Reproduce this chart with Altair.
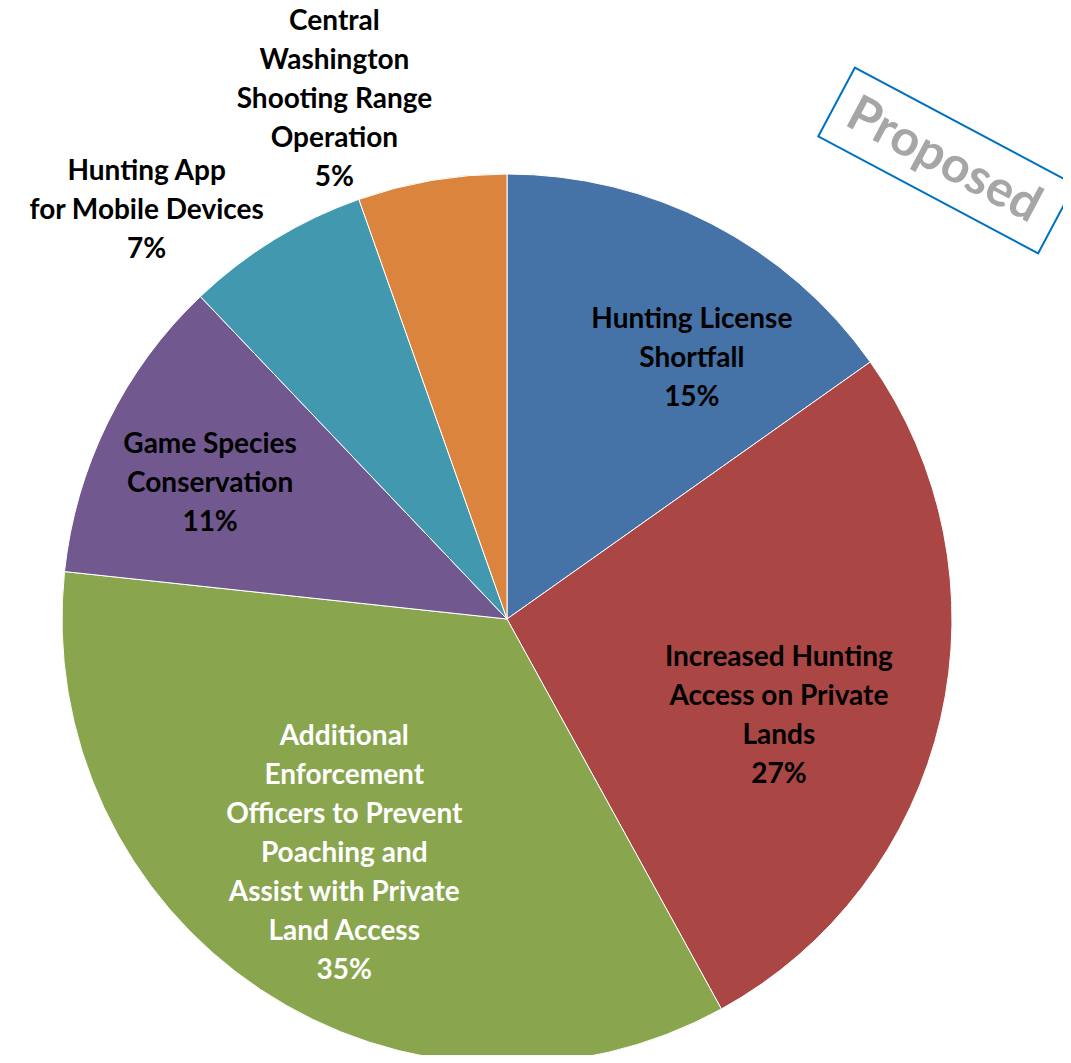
import math
import altair as alt
import pandas as pd

# ---- data ----
categories = [
    "Hunting License Shortfall",
    "Increased Hunting Access on Private Lands",
    "Additional Enforcement Officers to Prevent Poaching and Assist with Private Land Access",
    "Game Species Conservation",
    "Hunting App for Mobile Devices",
    "Central Washington Shooting Range Operation",
]
values = [15.2, 26.8, 34.7, 11.2, 6.7, 5.4]
label_lines = [
    ["Hunting License", "Shortfall"],
    ["Increased Hunting", "Access on Private", "Lands"],
    ["Additional", "Enforcement", "Officers to Prevent", "Poaching and",
     "Assist with Private", "Land Access"],
    ["Game Species", "Conservation"],
    ["Hunting App", "for Mobile Devices"],
    ["Central", "Washington", "Shooting Range", "Operation"],
]

# ---- styles / layout ----
colors = ["#4572A7", "#AA4643", "#89A54E", "#71588F", "#4198AF", "#DB843D"]
label_colors = ["black", "black", "white", "black", "black", "black"]
label_angle_shift = [7.8, 6.3, 1.3, -1.5, -9.8, -8.6]   # degrees from slice middle
label_dist = [321, 288, 284, 327, 546, 549]             # px from pie centre (block centre)
LH = 39
Y_NUDGE = 2.5
CX, CY, R = 499, 611, 445
W, H = 1055, 1047

total = sum(values)
rows = []
cum = 0.0
for i, (c, v) in enumerate(zip(categories, values)):
    mid = (cum + v / 2) / total * 360.0
    cum += v
    a = math.radians(mid + label_angle_shift[i])
    lines = label_lines[i] + [f"{round(v / total * 100)}%"]
    rows.append({
        "idx": i,
        "category": c,
        "value": v,
        "color": colors[i],
        "tc": label_colors[i],
        "lines": lines,
        "lx": CX + label_dist[i] * math.sin(a),
        "ly": CY - label_dist[i] * math.cos(a) - (len(lines) - 1) * LH / 2 + Y_NUDGE,
    })
df = pd.DataFrame(rows)

base = alt.Chart(df)

pie = base.mark_arc(outerRadius=R, stroke="#ffffff", strokeWidth=1).encode(
    theta=alt.Theta("value:Q", stack=True),
    color=alt.Color("color:N", scale=None),
    order=alt.Order("idx:Q"),
    x=alt.value(CX),
    y=alt.value(CY),
)

labels = base.mark_text(
    font="Lato", fontSize=28, fontWeight="bold", lineHeight=LH,
    align="center", baseline="middle",
).encode(
    x=alt.X("lx:Q", scale=None, axis=None),
    y=alt.Y("ly:Q", scale=None, axis=None),
    text="lines",
    color=alt.Color("tc:N", scale=None),
)

stamp_df = pd.DataFrame({"t": ["Proposed"]})
SX, SY, SW = 938.5, 152.5, 249
box = alt.Chart(stamp_df).mark_point(
    shape="M-1,-0.313L1,-0.313L1,0.313L-1,0.313Z",
    size=SW * SW, angle=28, filled=False, stroke="#0070C0",
    strokeWidth=2, opacity=1,
).encode(x=alt.value(SX), y=alt.value(SY))

stamp_text = alt.Chart(stamp_df).mark_text(
    font="Lato", fontSize=50, fontWeight="bold", color="#A6A6A6",
    angle=28, align="center", baseline="middle",
).encode(x=alt.value(SX - 3), y=alt.value(SY), text="t:N")

chart = alt.layer(pie, labels, box, stamp_text).properties(
    width=W, height=H, padding=0,
    autosize=alt.AutoSizeParams(type="none"),
).configure_view(stroke=None)

chart.save("out.html", embed_options={"renderer": "svg", "actions": False})
